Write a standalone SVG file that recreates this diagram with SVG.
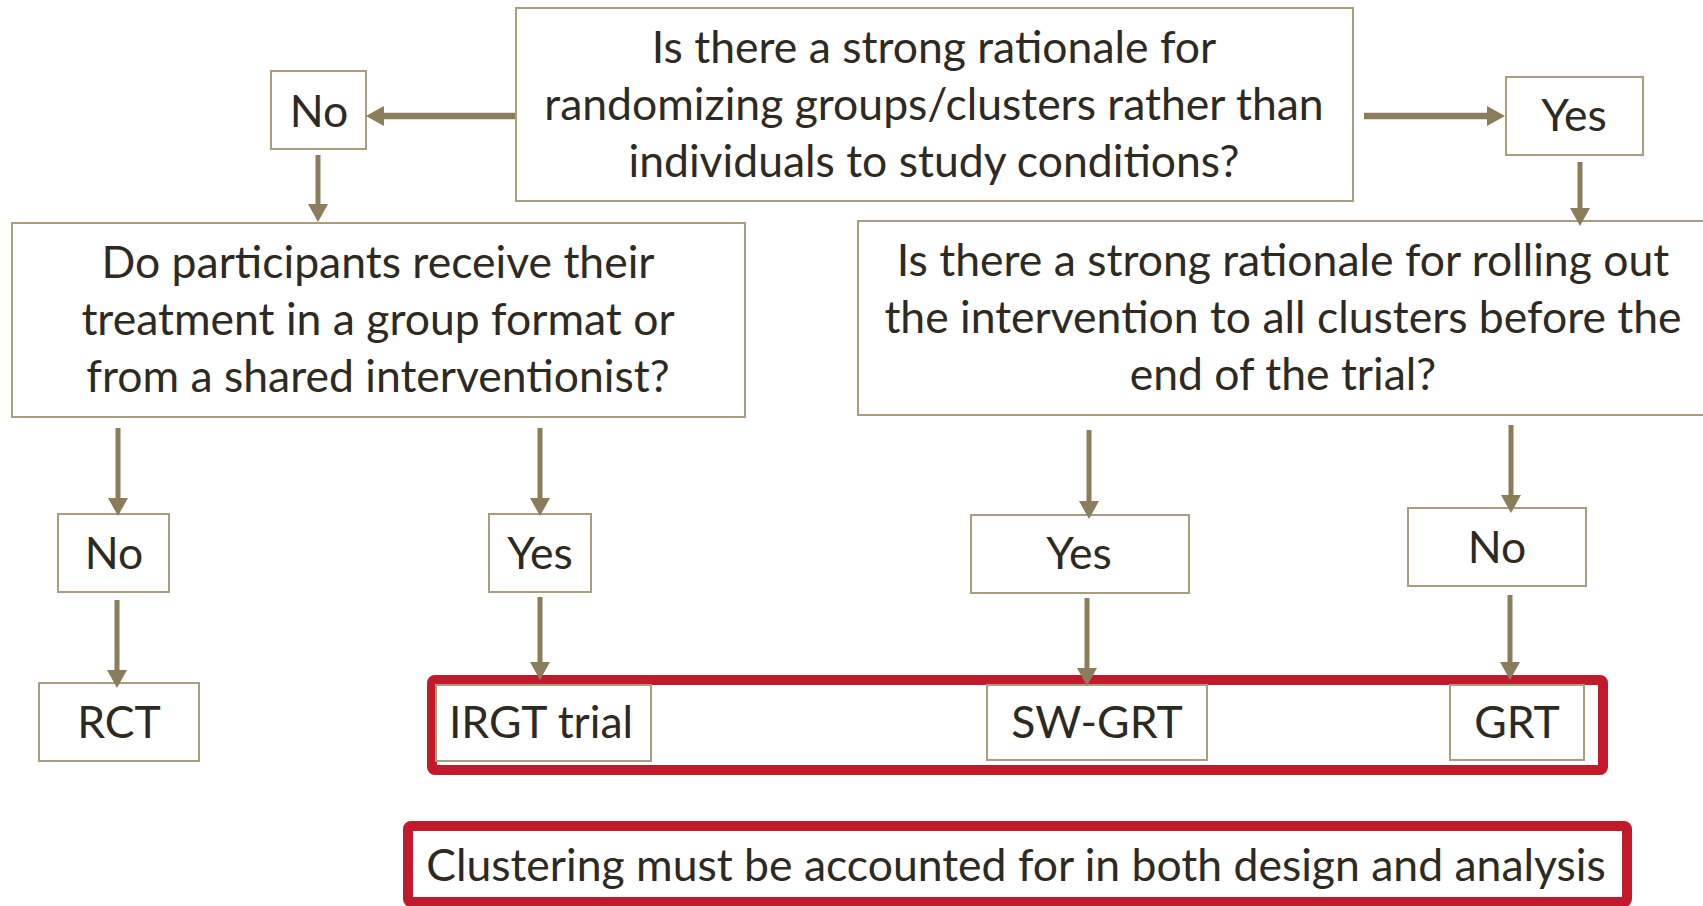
<svg xmlns="http://www.w3.org/2000/svg" width="1703" height="906" viewBox="0 0 1703 906">
  <style>
    .box { fill: #ffffff; stroke: #a99d7d; stroke-width: 2; }
    .frame { fill: none; stroke: #c01a2c; stroke-width: 10; }
    .t { font-family: Lato, "Open Sans", "Liberation Sans", sans-serif; font-size: 44.5px; fill: #2e2a1f; text-anchor: middle; }
    .arrow { stroke: #8b7d5b; stroke-width: 5; fill: none; marker-end: url(#head); }
    .arrow.h { stroke-width: 6.5; }
  </style>
  <defs>
    <marker id="head" markerUnits="userSpaceOnUse" markerWidth="18" markerHeight="20" refX="0" refY="10" orient="auto" viewBox="0 0 18 20">
      <path d="M0,0 L18,10 L0,20 z" fill="#8b7d5b"/>
    </marker>
  </defs>
  <rect width="1703" height="906" fill="#ffffff"/>

  <!-- red frame grouping the clustered designs -->
  <g id="cluster-frame">
    <rect class="frame" x="432" y="680" width="1171" height="90" rx="3"/>
  </g>

  <!-- questions -->
  <g id="q-randomize">
    <rect class="box" x="516" y="8" width="837" height="193"/>
    <text class="t" x="934" y="63">Is there a strong rationale for</text>
    <text class="t" x="934" y="120">randomizing groups/clusters rather than</text>
    <text class="t" x="934" y="177">individuals to study conditions?</text>
  </g>
  <g id="q-group-format">
    <rect class="box" x="12" y="223" width="733" height="194"/>
    <text class="t" x="378" y="278">Do participants receive their</text>
    <text class="t" x="378" y="335">treatment in a group format or</text>
    <text class="t" x="378" y="392">from a shared interventionist?</text>
  </g>
  <g id="q-rollout">
    <rect class="box" x="858" y="221" width="860" height="194"/>
    <text class="t" x="1283" y="276">Is there a strong rationale for rolling out</text>
    <text class="t" x="1283" y="333">the intervention to all clusters before the</text>
    <text class="t" x="1283" y="390">end of the trial?</text>
  </g>

  <!-- answers -->
  <g id="a-top-no">
    <rect class="box" x="271" y="71" width="95" height="78"/>
    <text class="t" x="319" y="127">No</text>
  </g>
  <g id="a-top-yes">
    <rect class="box" x="1506" y="77" width="137" height="78"/>
    <text class="t" x="1574" y="131">Yes</text>
  </g>
  <g id="a-group-no">
    <rect class="box" x="58" y="514" width="111" height="78"/>
    <text class="t" x="114" y="569">No</text>
  </g>
  <g id="a-group-yes">
    <rect class="box" x="489" y="514" width="102" height="78"/>
    <text class="t" x="540" y="569">Yes</text>
  </g>
  <g id="a-rollout-yes">
    <rect class="box" x="971" y="515" width="218" height="78"/>
    <text class="t" x="1079" y="569">Yes</text>
  </g>
  <g id="a-rollout-no">
    <rect class="box" x="1408" y="508" width="178" height="78"/>
    <text class="t" x="1497" y="563">No</text>
  </g>

  <!-- outcomes -->
  <g id="rct">
    <rect class="box" x="39" y="683" width="160" height="78"/>
    <text class="t" x="119" y="738">RCT</text>
  </g>
  <g id="irgt">
    <rect class="box" x="436" y="685" width="215" height="76"/>
    <text class="t" x="541" y="738">IRGT trial</text>
  </g>
  <g id="sw-grt">
    <rect class="box" x="987" y="685" width="220" height="75"/>
    <text class="t" x="1097" y="738">SW-GRT</text>
  </g>
  <g id="grt">
    <rect class="box" x="1450" y="685" width="134" height="75"/>
    <text class="t" x="1517" y="738">GRT</text>
  </g>

  <!-- note -->
  <g id="note">
    <rect class="frame" x="408" y="826" width="1219" height="76" rx="3"/>
    <text class="t" x="1016" y="881">Clustering must be accounted for in both design and analysis</text>
  </g>

  <!-- connectors -->
  <g id="connectors">
    <path class="arrow h" d="M515,116 H384"/>
    <path class="arrow h" d="M1364,116 H1487"/>
    <path class="arrow" d="M318,155 V204"/>
    <path class="arrow" d="M1580,162 V208"/>
    <path class="arrow" d="M118,428 V498"/>
    <path class="arrow" d="M117,600 V670"/>
    <path class="arrow" d="M540,428 V498"/>
    <path class="arrow" d="M540,597 V662"/>
    <path class="arrow" d="M1089,430 V501"/>
    <path class="arrow" d="M1087,598 V668"/>
    <path class="arrow" d="M1511,425 V495"/>
    <path class="arrow" d="M1510,595 V662"/>
  </g>
</svg>
